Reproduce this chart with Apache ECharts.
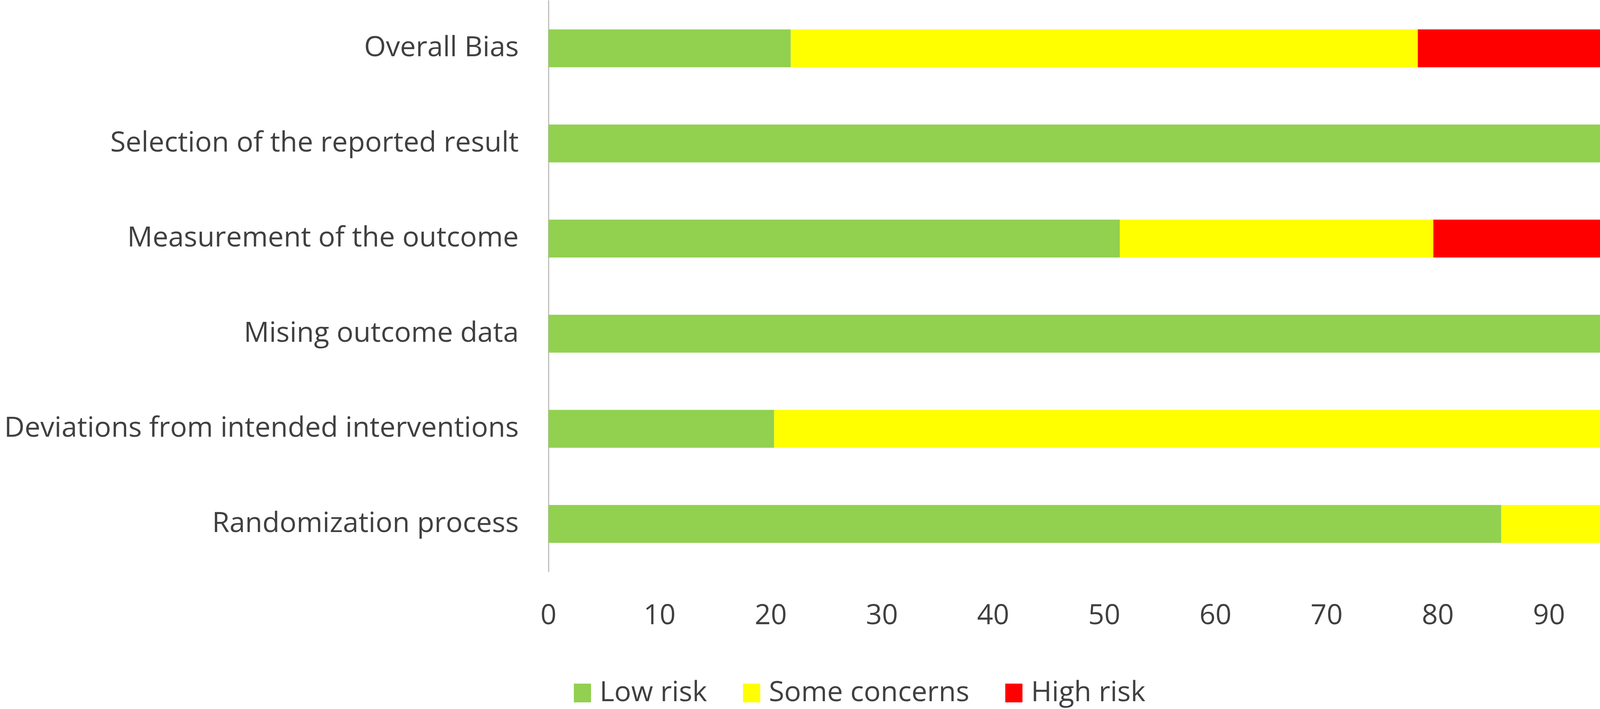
<!DOCTYPE html>
<html>
<head>
<meta charset="utf-8">
<script src="https://cdn.jsdelivr.net/npm/echarts@6/dist/echarts.min.js"></script>
<style>
html,body{margin:0;padding:0;background:#fff;}
#chart{width:4328px;height:1815px;}
</style>
</head>
<body>
<div id="chart"></div>
<script>
const categories = [
  "Overall Bias",
  "Selection of the reported result",
  "Measurement of the outcome",
  "Mising outcome data",
  "Deviations from intended interventions",
  "Randomization process"
];
const lowRisk = [21.8, 100, 51.4, 95.3, 20.3, 85.7];
const someConcerns = [56.4, 0, 28.2, 1.5, 75.0, 11.0];
const highRisk = [21.8, 0, 20.4, 3.2, 4.7, 3.3];
const seriesNames = ["Low risk", "Some concerns", "High risk"];
const seriesColors = ["#92D050", "#FFFF00", "#FF0000"];
const xTicks = [0, 10, 20, 30, 40, 50, 60, 70, 80, 90, 100];

const FONT = "Open Sans";
const TEXT = "#404040";
const chart = echarts.init(document.getElementById('chart'), null, {renderer: 'canvas'});
const values = [lowRisk, someConcerns, highRisk];

chart.setOption({
  backgroundColor: '#ffffff',
  animation: false,
  grid: {left: 1404, right: 78, top: 2, height: 1461, containLabel: false},
  legend: {
    left: 1464,
    top: 1733,
    itemWidth: 44,
    itemHeight: 48,
    itemGap: 92,
    icon: 'rect',
    textStyle: {fontFamily: FONT, fontSize: 72, color: TEXT, padding: [0, 0, 0, 17]},
    data: seriesNames
  },
  xAxis: {
    type: 'value',
    min: xTicks[0],
    max: xTicks[xTicks.length - 1],
    interval: xTicks[1] - xTicks[0],
    axisLine: {show: false},
    axisTick: {show: false},
    splitLine: {show: false},
    axisLabel: {fontFamily: FONT, fontSize: 72, color: TEXT, margin: 78}
  },
  yAxis: {
    type: 'category',
    inverse: true,
    data: categories,
    axisLine: {show: true, lineStyle: {color: '#BFBFBF', width: 3}},
    axisTick: {show: false},
    splitLine: {show: false},
    axisLabel: {fontFamily: FONT, fontSize: 72, color: TEXT, margin: 76}
  },
  series: seriesNames.map((name, i) => ({
    name: name,
    type: 'bar',
    stack: 'total',
    barWidth: 97,
    itemStyle: {color: seriesColors[i]},
    data: values[i]
  }))
});
</script>
</body>
</html>
